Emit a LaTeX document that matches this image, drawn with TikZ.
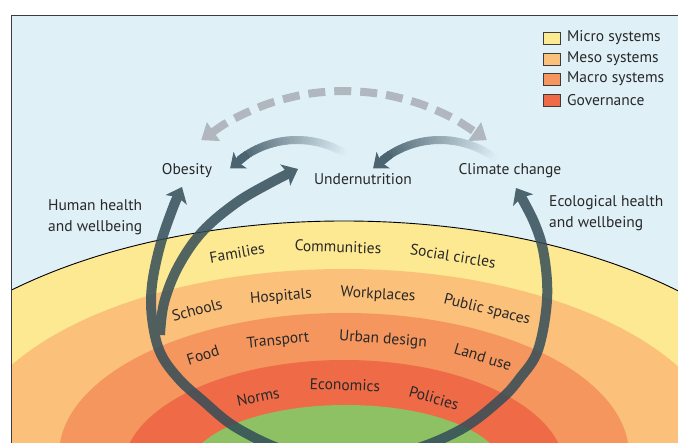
\documentclass[tikz,border=0pt]{standalone}
\usepackage{fontspec}
\setmainfont{PT Sans}
\usetikzlibrary{arrows.meta}
\definecolor{bgblue}{RGB}{224,240,247}
\definecolor{micro}{RGB}{253,233,146}
\definecolor{meso}{RGB}{251,192,122}
\definecolor{macro}{RGB}{244,150,94}
\definecolor{gov}{RGB}{239,107,72}
\definecolor{core}{RGB}{141,193,100}
\definecolor{arrowc}{RGB}{51,77,88}
\definecolor{arrowtop}{RGB}{75,100,112}
\definecolor{dashc}{RGB}{176,183,191}
\definecolor{txt}{RGB}{40,40,40}
\definecolor{framec}{RGB}{60,60,60}
\newcommand{\gradarrow}[5]{%
  \foreach \i in {0,...,27}{%
    \pgfmathsetmacro{\ta}{#4+((#5+8)-#4)*\i/28}%
    \pgfmathsetmacro{\tb}{#4+((#5+8)-#4)*(\i+1)/28}%
    \pgfmathsetmacro{\pc}{100*(\i+0.5)/28}%
    \draw[line width=8pt, line cap=round, arrowtop!\pc!bgblue] ({#1+#3*cos(\ta)},{#2+#3*sin(\ta)}) -- ({#1+#3*cos(\tb)},{#2+#3*sin(\tb)});
  }%
  \draw[line width=8pt, arrowtop, -{Stealth[length=13pt,width=21pt,inset=3pt]}] ({#1+#3*cos(#5+14)},{#2+#3*sin(#5+14)}) -- ({#1+#3*cos(#5)},{#2+#3*sin(#5)});
}
\begin{document}
\begin{tikzpicture}[x=1pt,y=-1pt,
  lbl/.style={text=txt, font=\fontsize{15.5}{21}\selectfont, inner sep=0pt},
  ring/.style={lbl},
  legbox/.style={draw=framec, line width=0.8pt, minimum width=17pt, minimum height=12pt, inner sep=0pt},
  bigarrow/.style={arrowc, line width=10pt},
  bigtip/.tip={Stealth[length=14pt,width=23pt,inset=3pt]}]

\useasboundingbox (0,0) rectangle (678,443);
\fill[white] (0,0) rectangle (678,443);

\begin{scope}
\clip (11,16) rectangle (678,443);
\fill[bgblue] (11,16) rectangle (678,443);
\fill[micro] (344,470) ellipse [x radius=481, y radius=249];
\draw[black, line width=0.9pt] (344,470) ellipse [x radius=481, y radius=249];
\fill[meso] (344,460) ellipse [x radius=383, y radius=191];
\fill[macro] (344,455) ellipse [x radius=285, y radius=142];
\fill[gov] (344,470) ellipse [x radius=221, y radius=110];
\fill[core] (346,470) ellipse [x radius=158, y radius=65];

% ring labels
\node[ring, rotate=10] (families) at (237,253) {Families};
\node[ring, rotate=-2] (communities) at (338,247) {Communities};
\node[ring, rotate=-9] (social) at (453,256) {Social circles};
\node[ring, rotate=15] (schools) at (197,310) {Schools};
\node[ring, rotate=5] (hospitals) at (281,297) {Hospitals};
\node[ring, rotate=-3] (workplaces) at (378,295) {Workplaces};
\node[ring, rotate=-14] (public) at (487,310) {Public spaces};
\node[ring, rotate=18] (food) at (203,355) {Food};
\node[ring, rotate=6] (transport) at (278,341) {Transport};
\node[ring, rotate=-4] (urban) at (383,340) {Urban design};
\node[ring, rotate=-17] (landuse) at (483,357) {Land use};
\node[ring, rotate=12] (norms) at (258,397) {Norms};
\node[ring, rotate=-2] (economics) at (345,385) {Economics};
\node[ring, rotate=-16] (policies) at (434,398) {Policies};

% big loop arrows
\coordinate (obtip) at (182,187);
\coordinate (cctip) at (516,188);
\coordinate (untip) at (298,169);
\coordinate (branch) at (160,335);
\begin{scope}[transparency group, opacity=0.85]
\draw[bigarrow, bigtip-bigtip] plot[smooth, tension=0.6] coordinates {(obtip) (171,213) (160,246) (152,285) (152,318) (160,352) (178,378) (202,400) (237,428) (290,452) (348,459) (405,452) (460,430) (500,400) (520,378) (538,350) (547,300) (544,255) (534,222) (cctip)};
\draw[bigarrow, -bigtip] plot[smooth, tension=0.6] coordinates {(branch) (164,303) (178,267) (202,232) (236,203) (270,183) (untip)};
\end{scope}
\end{scope}

% frame
\draw[framec, line width=1pt] (11,443) -- (11,16) -- (678,16);

% top labels
\node[lbl] (obesity) at (187,171) {Obesity};
\node[lbl] (undern) at (363,179) {Undernutrition};
\node[lbl] (climate) at (510,171) {Climate change};
\node[lbl, align=left, anchor=west] (hhw) at (48,217) {Human health\\and wellbeing};
\node[lbl, align=left, anchor=west] (ehw) at (549,213) {Ecological health\\and wellbeing};

% dashed arrow
\draw[dashc, line width=8pt, dash pattern=on 17pt off 9pt, {Triangle[length=15pt,width=22pt]}-{Triangle[length=15pt,width=22pt]}] plot[smooth, domain=-128:-52, samples=9, variable=\t] ({344+232*cos(\t)},{323+232*sin(\t)});

% gradient arrows
\gradarrow{297}{233}{93}{-60}{-136}
\gradarrow{440}{233}{93}{-55}{-136}

% legend
\node[legbox, fill=micro] (b1) at (552,38) {};
\node[legbox, fill=meso] (b2) at (552,59) {};
\node[legbox, fill=macro] (b3) at (552,79) {};
\node[legbox, fill=gov] (b4) at (552,100) {};
\node[lbl, anchor=west] (l1) at (567,38) {Micro systems};
\node[lbl, anchor=west] (l2) at (567,59) {Meso systems};
\node[lbl, anchor=west] (l3) at (567,79) {Macro systems};
\node[lbl, anchor=west] (l4) at (567,100) {Governance};
\end{tikzpicture}
\end{document}
